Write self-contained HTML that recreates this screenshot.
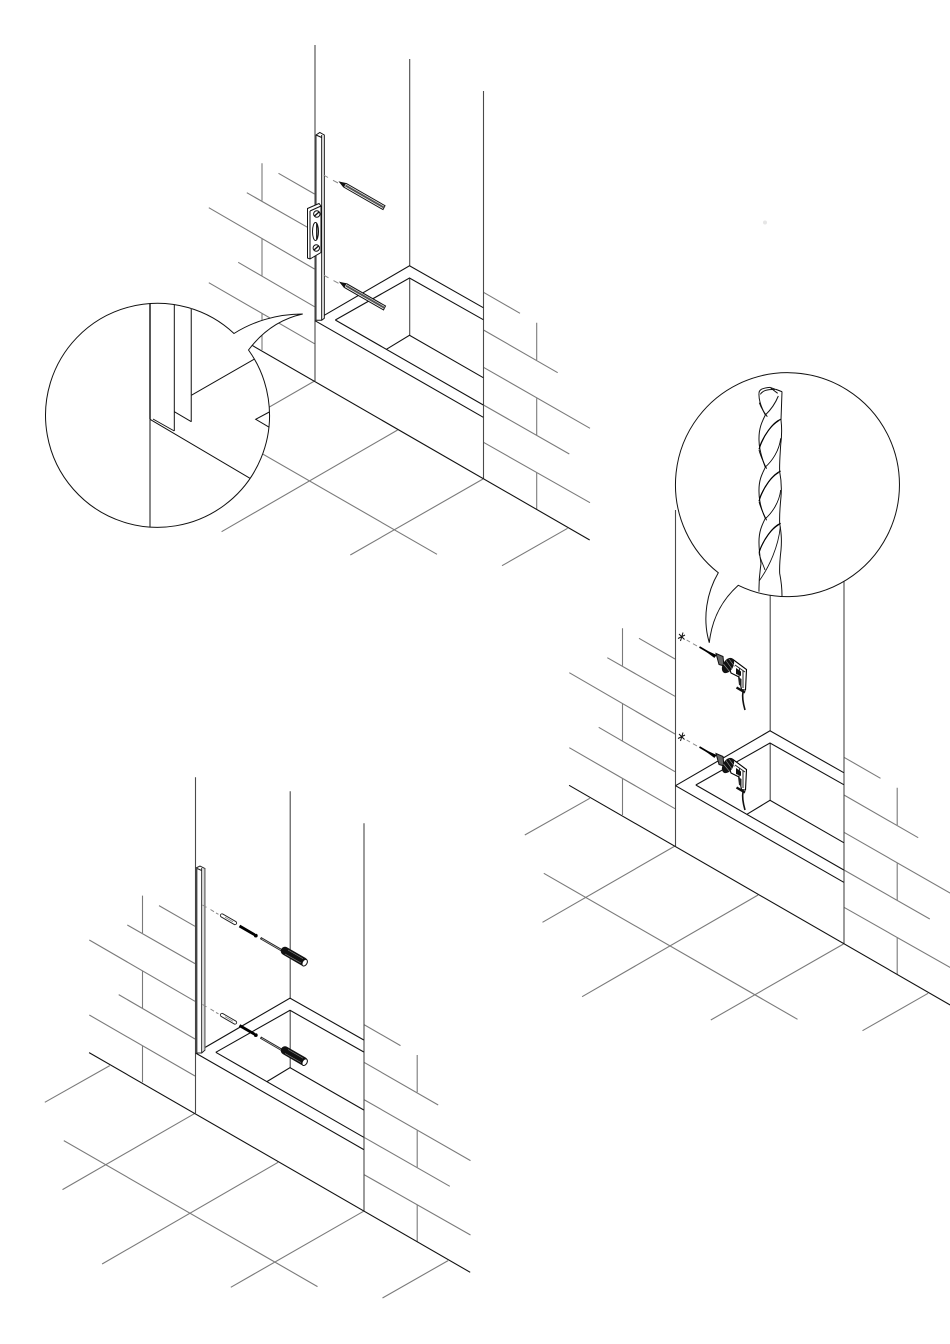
<!DOCTYPE html>
<html><head><meta charset="utf-8"><title>Diagram</title>
<style>html,body{margin:0;padding:0;background:#fff}svg{display:block}</style></head>
<body>
<svg xmlns="http://www.w3.org/2000/svg" width="950" height="1344" viewBox="0 0 950 1344">
<defs>
<g id="scene" fill="none" stroke-width="1.1">
  <g stroke="#7a7a7a">
    <path d="M278.5 173.3L314.5 194M246.8 192.7L314.5 231.3M208.8 207.7L314.5 269M238.2 262.3L314.5 306.7M208.8 282.7L314.5 343.7"/>
    <path d="M262 163.3V200.7M262 238.3V275.7M262 313.3V350"/>
    <path d="M483.5 292.3L520 313.3M483.5 330L557.7 372.7M483.5 367.3L590 428.3M483.5 405L569.3 454M483.5 442.3L590 502.7"/>
    <path d="M536.7 322.7V360M536.7 398.3V435M536.7 472.7V509.3"/>
    <path d="M164.3 370L229.3 333.3M314.5 381L182 457.3M183.3 408.3L437 554.3M397.6 430L221.6 531.7M483 479L350.3 555M567.6 528.3L502 565.7"/>
  </g>
  <g stroke="#4a4a4a">
    <path d="M315 45V381M409.7 59V266M409.7 278V335.3M483.5 91V479"/>
  </g>
  <g stroke="#111">
    <path d="M208.6 320.3L589.7 540"/>
    <path d="M315 320.7L483.3 417.3M315 320.7L409.5 265.8L483.3 307.7"/>
    <path d="M335.3 320L409.5 278L483.3 319.7M335.3 320L483.3 405"/>
    <path d="M386.6 349.2L409.5 335.3L483.3 377.7"/>
  </g>
</g>
<g id="pencil" stroke="#111" stroke-width="1" fill="#fff">
  <path d="M340 182.3L346.5 183.6L385 205.7L383 209.6L344.5 187.5Z"/>
  <path d="M345.5 185.5L384 207.6" fill="none" stroke="#555" stroke-width="2"/>
  <path d="M340 182.3L345 184.2L343.5 186.8Z" fill="#111"/>
  <path d="M323.5 175L328 177.5M333 180.3L338 183" stroke="#888" fill="none"/>
</g>
<g id="shand" fill="none">
  <path d="M202.5 905L206.5 907.3M210.5 909.5L214 911.7M216 913L218.5 914.3" stroke="#888"/>
  <path d="M222 915.5L235 923" stroke="#222" stroke-width="4.2" stroke-linecap="round"/>
  <path d="M222 915.5L235 923" stroke="#fff" stroke-width="2.4" stroke-linecap="round"/>
  <path d="M225 917.2L233 921.8" stroke="#777" stroke-width=".8"/>
  <path d="M239.5 926L254.5 934.7" stroke="#000" stroke-width="2.8"/>
  <circle cx="255.8" cy="935.6" r="1.9" fill="#000"/>
  <path d="M260.5 938L282 950.5" stroke="#222" stroke-width="2.4"/>
  <path d="M261.5 938.6L281 950" stroke="#ccc" stroke-width=".6"/>
  <path d="M285 951L303.5 961.7" stroke="#111" stroke-width="8.5" stroke-linecap="round"/>
  <path d="M288 950L303 958.7M285 954L301 963" stroke="#888" stroke-width=".6"/>
  <ellipse cx="304.7" cy="962.7" rx="2.3" ry="3.6" transform="rotate(30 304.7 962.7)" fill="#fff" stroke="#111"/>
</g>
<g id="drill" fill="none">
  <path d="M683 632.5L680.5 641M678 638.5L685 635M679 634L684.5 639.5" stroke="#111" stroke-width="1"/>
  <path d="M686.7 640L690 642M693 643.7L697 646" stroke="#888"/>
  <path d="M699.5 647L708 652L716 656" stroke="#000" stroke-width="1.8"/>
  <path d="M701 648L716 654.8L714.5 658Z" fill="#000"/>
  <path d="M716 653.5L723 656.5L724 666L719 664.5Z" fill="#666" stroke="#111" stroke-width="1"/>
  <path d="M733 659.5L746.5 669.5L745.5 690L741.5 689.5L739 677L731 673L727 660Z" fill="#fff" stroke="#000" stroke-width="1.1"/>
  <path d="M739.5 668L739 677M743 671V688M735 665L745 672" stroke="#222" stroke-width="1"/>
  <path d="M736 668L741 671.5V676L736 674Z" fill="#111"/>
  <path d="M738 677L741.5 679V686L739 685Z" fill="#222"/>
  <ellipse cx="728" cy="665.5" rx="5.2" ry="8.3" transform="rotate(30 728 665.5)" fill="#111"/>
  <path d="M723.5 664L730 672M726 660.5L732 669M729 659L735 667" stroke="#999" stroke-width=".6"/>
  <path d="M736.5 687.5L745 692.5" stroke="#111" stroke-width="2.4"/>
  <path d="M743 692C742 697 743 703 745 710" stroke="#111" stroke-width="1.6"/>
</g>
<g id="flute" fill="none" stroke="#000" stroke-width="3.4">
  <path d="M392 178C368 188 340 226 327 268"/>
  <path d="M386 183C364 196 340 228 329 258" stroke-width="2"/>
  <path d="M327 270C332 290 342 310 350 326" stroke-width="2.6"/>
  <path d="M392 235C388 272 366 304 345 322" stroke-width="2.6"/>
</g>
</defs>

<use href="#scene"/>
<use href="#scene" transform="translate(360.5 465)"/>
<use href="#scene" transform="translate(-119.5 732.3)"/>

<!-- scene 1 tools -->
<g fill="#fff" stroke="#111" stroke-width="1">
  <path d="M316 135L319.8 132.5L324.3 135V318.3L321.7 320.3H316Z"/>
  <path d="M321.7 135V320M316 135L321.7 137.5" fill="none"/>
  <path d="M315.5 135V320.5" stroke="#444" stroke-width="1.4" fill="none"/>
</g>
<g fill="#fff" stroke="#111" stroke-width="1">
  <path d="M307.5 208.5L319 203.5L321 206V252.5L310 259L307.5 258Z"/>
  <path d="M310 211L321 206M310 211V259"/>
  <circle cx="316.8" cy="214" r="3.2"/>
  <path d="M314.5 216L319 212" stroke-width="1.4"/>
  <ellipse cx="315.5" cy="231.5" rx="3" ry="9"/>
  <path d="M316.8 223.5V239.5" stroke-width="1.4"/>
  <circle cx="316.3" cy="248" r="3.2"/>
  <path d="M314 250L318.5 246" stroke-width="1.4"/>
</g>
<use href="#pencil"/>
<use href="#pencil" transform="translate(.5 100.3)"/>

<!-- scene 1 callout -->
<path d="M248.5 350A112 112 0 1 1 234 333.5C252 322 276 314 302.7 314C280 319 262 332 248.5 350Z" fill="#fff" stroke="#111"/>
<g fill="none" stroke="#111">
  <path d="M150 303.3V527.3"/>
  <path d="M150 303.5V419" stroke-width="1.4"/>
  <path d="M174.3 304.3V431"/>
  <path d="M191.3 308.3V421.7" stroke="#444" stroke-width="1.3"/>
  <path d="M150 419.3L250 478.3M153 419L174.3 431M174.3 411.7L191.3 421.7M191.3 395.3L254 359.3"/>
  <path d="M269.3 412L255.7 419.3L269.3 427.3"/>
</g>

<!-- scene 2 tools -->
<use href="#drill"/>
<use href="#drill" transform="translate(0 100)"/>

<!-- scene 2 callout -->
<path d="M718.3 572.76A112 112 0 1 1 738.3 585.3C722 600 712 618 709.3 642.7C702 618 707 592 718.3 572.76Z" fill="#fff" stroke="#111"/>
<g transform="translate(650 360) scale(.33333)">
  <g fill="none" stroke="#111" stroke-width="3">
    <path d="M327 100C327 90 335 84 360 82L396 95"/>
    <path d="M331 103C338 92 350 88 375 88M362 84L383 100M378 88L396 95"/>
    <path d="M396 95L393 180C396 205 396 225 392 255C390 290 388 310 389 335C393 355 396 375 393 410C390 440 388 465 389 490C393 515 396 535 393 570C390 595 388 615 389 640C393 660 396 680 396 708"/>
    <path d="M327 100C326 115 330 135 346 165C336 185 326 205 327 240C327 262 332 285 346 322C336 342 326 360 327 395C327 420 332 445 346 475C336 495 326 515 327 550C327 572 330 590 333 610C331 630 326 650 327 695"/>
    <path d="M385 108C376 130 362 150 346 165"/>
    <path d="M328 128C334 145 344 160 352 170"/>
  </g>
  <use href="#flute"/>
  <use href="#flute" transform="translate(0 155)"/>
  <path d="M391 500C385 560 358 620 328 662M327 580C332 600 340 615 345 630" fill="none" stroke="#111" stroke-width="2.6"/>
  <path d="M392 490C368 500 340 538 327 578" fill="none" stroke="#000" stroke-width="3.4"/>
  <path d="M386 495C364 508 340 540 329 570" fill="none" stroke="#000" stroke-width="2"/>
</g>

<!-- scene 3 tools -->
<g fill="#fff" stroke="#222" stroke-width="1">
  <path d="M196 868L200 866L205 868.5V1050L201.7 1053H196Z"/>
  <path d="M201.7 868V1053M196 868L201.7 870.5" fill="none"/>
  <path d="M196.5 868V1053" stroke="#444" stroke-width="1.8" fill="none"/>
  <path d="M204.5 868.5V1050" stroke="#888" stroke-width="1.6" fill="none"/>
</g>
<use href="#shand"/>
<use href="#shand" transform="translate(0 99.5)"/>

<circle cx="765" cy="222.5" r="2" fill="#e6e6e6"/>
</svg>
</body></html>
